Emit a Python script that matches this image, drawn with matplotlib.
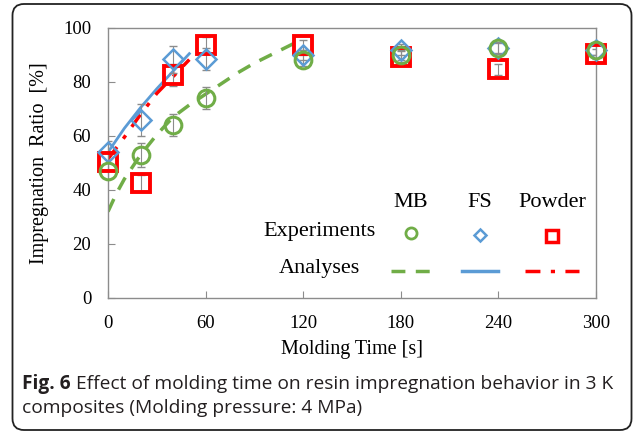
import matplotlib
matplotlib.use("Agg")
import matplotlib.pyplot as plt
from matplotlib.patches import FancyBboxPatch

# Experimental data ------------------------------------------------------
t_exp = [0, 20, 40, 60, 120, 180, 240, 300]
mb = [47, 53, 64, 74, 88, 90, 92.5, 92]
mb_err = [3, 4.5, 4, 4, 2, 2, 2, 2]
fs = [54, 66, 88.5, 88.5, 90, 92, 92.7, 92]
fs_err = [4, 6, 5, 4, 2, 2, 2, 2]
powder = [50.5, 42.7, 82.6, 93.7, 93.7, 89.4, 84.7, 90.4]
powder_err = [3, 3, 4, 3, 2, 2, 2, 2]

# Analysis curves --------------------------------------------------------
t_mb_fit = [0, 5, 10, 20, 30, 40, 50, 60, 70, 80, 90, 100, 110, 115]
mb_fit = [32, 38.5, 44, 53, 60.5, 67, 71.5, 75.5, 79.5, 83.5, 87, 90, 93, 94.5]
t_fs_fit = [0, 10, 20, 30, 40, 50]
fs_fit = [54, 62.8, 70.5, 77.5, 84, 90.5]
t_pw_fit = [0, 10, 20, 30, 40, 50]
pw_fit = [51.5, 59.5, 68, 75.8, 82, 88.3]

GREEN = "#70ad47"
BLUE = "#5b9bd5"
RED = "#ff0000"
GREY = "#8c8c8c"

plt.rcParams["font.family"] = ["Liberation Serif", "DejaVu Serif"]

fig = plt.figure(figsize=(6.34, 4.33), dpi=100)
ax = fig.add_axes([108 / 634, 135 / 433, 488 / 634, 270 / 433])

# analysis lines
ax.plot(t_mb_fit, mb_fit, color=GREEN, lw=2.5, ls=(0, (4, 3)), zorder=2)
ax.plot(t_fs_fit, fs_fit, color=BLUE, lw=2, zorder=2)
ax.plot(t_pw_fit, pw_fit, color=RED, lw=2.5, ls=(0, (4.3, 3, 1.2, 3)), zorder=2)

# experiments
ax.errorbar(t_exp, powder, yerr=powder_err, fmt="none", ecolor=GREY,
            elinewidth=0.8, capsize=3, zorder=3)
ax.plot(t_exp, powder, ls="none", marker="s", ms=12.5, mfc="none",
        mec=RED, mew=2.8, zorder=4, clip_on=False)
ax.errorbar(t_exp, fs, yerr=fs_err, fmt="none", ecolor=GREY,
            elinewidth=0.8, capsize=3, zorder=3)
ax.plot(t_exp, fs, ls="none", marker="D", ms=10, mfc="none",
        mec=BLUE, mew=1.8, zorder=5, clip_on=False)
ax.errorbar(t_exp, mb, yerr=mb_err, fmt="none", ecolor=GREY,
            elinewidth=0.8, capsize=3, zorder=3)
ax.plot(t_exp, mb, ls="none", marker="o", ms=12, mfc="none",
        mec=GREEN, mew=2.2, zorder=6, clip_on=False)

ax.set_xlim(0, 300)
ax.set_ylim(0, 100)
ax.set_xticks(range(0, 301, 60))
ax.set_yticks(range(0, 101, 20))
ax.tick_params(direction="in", length=5, color=GREY, labelsize=13.5,
               pad=12)
for sp in ax.spines.values():
    sp.set_color(GREY)
    sp.set_linewidth(1)
ax.set_xlabel("Molding Time [s]", fontsize=14.5, labelpad=6)
ax.set_ylabel("Impregnation  Ratio  [%]", fontsize=14.5, labelpad=10)

# in-plot legend table
tr = ax.transAxes
for x, name in [(0.621, "MB"), (0.762, "FS"), (0.910, "Powder")]:
    ax.text(x, 0.352, name, transform=tr, ha="center", va="center",
            fontsize=16)
ax.text(0.433, 0.248, "Experiments", transform=tr, ha="center",
        va="center", fontsize=16)
ax.text(0.433, 0.111, "Analyses", transform=tr, ha="center",
        va="center", fontsize=16)
ax.plot([0.621], [0.24], transform=tr, marker="o", ms=8, mfc="none",
        mec=GREEN, mew=2, clip_on=False)
ax.plot([0.762], [0.232], transform=tr, marker="D", ms=6, mfc="none",
        mec=BLUE, mew=1.8, clip_on=False)
ax.plot([0.910], [0.228], transform=tr, marker="s", ms=9, mfc="none",
        mec=RED, mew=2.5, clip_on=False)
ax.plot([0.580, 0.662], [0.1, 0.1], transform=tr, color=GREEN, lw=2.5,
        ls=(0, (4, 3)))
ax.plot([0.725, 0.799], [0.1, 0.1], transform=tr, color=BLUE, lw=2.5)
ax.plot([0.855, 0.965], [0.1, 0.1], transform=tr, color=RED, lw=2.5,
        ls=(0, (4.3, 3, 1.2, 3)))

# caption and frame
frame = FancyBboxPatch((12.5 / 634, 3 / 433), 619 / 634, 426 / 433,
                       boxstyle="round,pad=0,rounding_size=0.018",
                       transform=fig.transFigure, fill=False,
                       ec="#222222", lw=1.3, mutation_aspect=634 / 433)
fig.patches.append(frame)
cap = dict(family=["Open Sans", "DejaVu Sans"], fontsize=13.8,
           color="#231f20")
bold = fig.text(22 / 634, 1 - 384 / 433, "Fig. 6", fontweight="bold",
                va="center", **cap)
plt.annotate(" Effect of molding time on resin impregnation behavior in 3 K",
             xy=(1, 0.5), xycoords=bold, va="center", ha="left",
             annotation_clip=False, **cap)
fig.text(22 / 634, 1 - 408 / 433, "composites (Molding pressure: 4 MPa)",
         va="center", **cap)

fig.savefig("out.png", dpi=100)
